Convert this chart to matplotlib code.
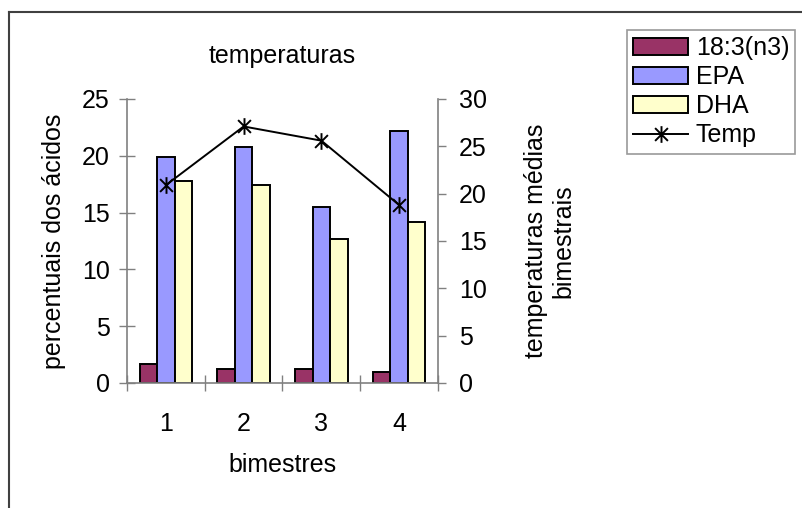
import numpy as np
import matplotlib.pyplot as plt
from matplotlib.path import Path
from matplotlib.lines import Line2D
from matplotlib.patches import Patch

plt.rcParams['font.family'] = ['Liberation Sans', 'DejaVu Sans']

# dados por bimestre
bimestres = ['1', '2', '3', '4']
acido_183 = [1.7, 1.2, 1.2, 1.0]
epa = [19.9, 20.8, 15.5, 22.2]
dha = [17.8, 17.4, 12.7, 14.2]
temp = [20.9, 27.1, 25.6, 18.8]

c_183 = '#993366'
c_epa = '#9999FF'
c_dha = '#FFFFCC'
grey = '#808080'
fs = 18

# marcador tipo asterisco (x + barra vertical)
asterisco = Path([(-1, -1), (1, 1), (-1, 1), (1, -1), (0, -1.3), (0, 1.3)],
                 [Path.MOVETO, Path.LINETO, Path.MOVETO, Path.LINETO, Path.MOVETO, Path.LINETO])

fig = plt.figure(figsize=(8.03, 5.08), dpi=100)
ax = fig.add_axes([127/803, 1-383/508, 311/803, 284/508])

x = np.arange(len(bimestres))
w = 0.225
ax.bar(x - w, acido_183, w, color=c_183, edgecolor='black', linewidth=1.4)
ax.bar(x, epa, w, color=c_epa, edgecolor='black', linewidth=1.4)
ax.bar(x + w, dha, w, color=c_dha, edgecolor='black', linewidth=1.4)

ax.set_xlim(-0.5, 3.5)
ax.set_ylim(0, 25)
ax.set_yticks(range(0, 26, 5))
ax.set_xticks(x)
ax.set_xticklabels(bimestres)
ax.set_xticks(np.arange(-0.5, 4.0, 1.0), minor=True)
ax.tick_params(axis='x', which='major', length=0, pad=21, labelsize=fs)
ax.tick_params(axis='x', which='minor', direction='inout', length=12, color=grey, width=1)
ax.tick_params(axis='y', direction='inout', length=11, color=grey, width=1, pad=7, labelsize=fs)
for s in ['top', 'right']:
    ax.spines[s].set_visible(False)
for s in ['left', 'bottom']:
    ax.spines[s].set_color(grey)
    ax.spines[s].set_linewidth(1.2)
ax.set_ylabel('percentuais dos ácidos', fontsize=fs, labelpad=11)
ax.set_xlabel('bimestres', fontsize=fs, labelpad=12)
ax.set_title('temperaturas', fontsize=fs, pad=26)

ax2 = ax.twinx()
ax2.plot(x, temp, color='black', linewidth=1.4, marker=asterisco,
         markersize=12, markeredgecolor='black', markeredgewidth=1.4)
ax2.set_ylim(0, 30)
ax2.set_yticks(range(0, 31, 5))
ax2.tick_params(axis='y', direction='out', length=6, color=grey, width=1, pad=9, labelsize=fs)
for s in ['top', 'left', 'bottom']:
    ax2.spines[s].set_visible(False)
ax2.spines['right'].set_color(grey)
ax2.spines['right'].set_linewidth(1.2)
ax2.set_ylabel('temperaturas médias\nbimestrais', fontsize=fs, labelpad=27, linespacing=1.15)

handles = [
    Patch(facecolor=c_183, edgecolor='black', linewidth=1.4),
    Patch(facecolor=c_epa, edgecolor='black', linewidth=1.4),
    Patch(facecolor=c_dha, edgecolor='black', linewidth=1.4),
    Line2D([], [], color='black', linewidth=1.4, marker=asterisco, markersize=12,
           markeredgecolor='black', markeredgewidth=1.4),
]
leg = fig.legend(handles, ['18:3(n3)', 'EPA', 'DHA', 'Temp'], loc='upper left',
                 bbox_to_anchor=(627/803, 1-30/508), fontsize=fs, frameon=True,
                 fancybox=False, edgecolor=grey, handlelength=2.2, handleheight=0.65,
                 handletextpad=0.3, labelspacing=0.2, borderpad=0.25, borderaxespad=0)
leg.get_frame().set_linewidth(1.2)

# moldura do gráfico
fig.add_artist(Line2D([9/803, 1], [1-12/508, 1-12/508], color='#404040', linewidth=1.5))
fig.add_artist(Line2D([9/803, 9/803], [0, 1-12/508], color='#404040', linewidth=1.5))

fig.savefig('out.png', dpi=100)
